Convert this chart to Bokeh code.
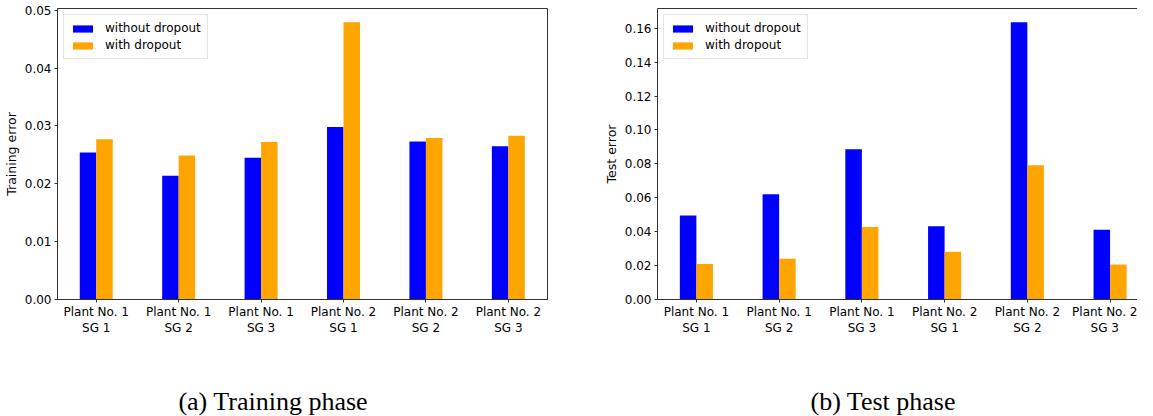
from bokeh.plotting import figure
from bokeh.layouts import row, column
from bokeh.models import Range1d, FixedTicker, NumeralTickFormatter, LinearAxis, Div, Spacer
from bokeh.embed import file_html
from bokeh.resources import INLINE

# ---- data ----
categories = ["Plant No. 1\nSG 1", "Plant No. 1\nSG 2", "Plant No. 1\nSG 3",
              "Plant No. 2\nSG 1", "Plant No. 2\nSG 2", "Plant No. 2\nSG 3"]
train_without = [0.0254, 0.0214, 0.0245, 0.0298, 0.0273, 0.0265]
train_with = [0.0277, 0.0249, 0.0272, 0.0479, 0.0279, 0.0283]
test_without = [0.0495, 0.0621, 0.0887, 0.0432, 0.1635, 0.0411]
test_with = [0.0210, 0.0240, 0.0427, 0.0281, 0.0792, 0.0206]
train_ticks = [0.0, 0.01, 0.02, 0.03, 0.04, 0.05]
test_ticks = [0.0, 0.02, 0.04, 0.06, 0.08, 0.10, 0.12, 0.14, 0.16]
series_labels = ["without dropout", "with dropout"]
captions = ["(a) Training phase", "(b) Test phase"]
ylabels = ["Training error", "Test error"]

FONT = "DejaVu Sans"
H = 372
TOP = 8
BOTTOM = 73
PX_PER_UNIT = 83.6
X0 = -0.47


def panel(width, border_left, border_right, ymax, yticks, ylabel, without, with_, outline):
    frame_w = width - border_left - border_right
    x_end = X0 + frame_w / PX_PER_UNIT
    p = figure(width=width, height=H, x_range=Range1d(X0, x_end), y_range=Range1d(0, ymax),
               output_backend="svg", toolbar_location=None,
               min_border_left=border_left, min_border_right=border_right,
               min_border_top=TOP, min_border_bottom=BOTTOM)
    p.xgrid.visible = False
    p.ygrid.visible = False
    p.background_fill_color = "white"
    p.border_fill_color = "white"
    xax = p.below[0]
    yax = p.left[0]
    if outline:
        p.outline_line_color = "#333333"
        p.outline_line_width = 1
    else:
        p.outline_line_color = None
        top = LinearAxis(ticker=FixedTicker(ticks=[]), major_tick_out=0, major_tick_in=0,
                         minor_tick_out=0, minor_tick_in=0, major_label_standoff=0,
                         major_label_text_font_size="0px", axis_line_color="#333333")
        p.add_layout(top, "above")

    idx = list(range(len(categories)))
    p.vbar(x=[i - 0.1 for i in idx], top=without, width=0.2, bottom=0,
           fill_color="blue", line_color=None, legend_label=series_labels[0])
    p.vbar(x=[i + 0.1 for i in idx], top=with_, width=0.2, bottom=0,
           fill_color="orange", line_color=None, legend_label=series_labels[1])

    for ax in (xax, yax):
        ax.axis_line_color = "#333333"
        ax.major_tick_line_color = "#333333"
        ax.major_tick_out = 3
        ax.major_tick_in = 0
        ax.minor_tick_line_color = None
        ax.major_label_text_font = FONT
        ax.major_label_text_font_size = "12px"
        ax.major_label_text_color = "black"

    xax.ticker = FixedTicker(ticks=idx)
    xax.major_label_overrides = {i: c for i, c in enumerate(categories)}
    xax.major_label_standoff = 2

    yax.ticker = FixedTicker(ticks=yticks)
    yax.formatter = NumeralTickFormatter(format="0.00")
    yax.major_label_standoff = 3
    yax.axis_label = ylabel
    yax.axis_label_text_font = FONT
    yax.axis_label_text_font_size = "12.5px"
    yax.axis_label_text_font_style = "normal"
    yax.axis_label_text_color = "black"
    yax.axis_label_standoff = 3

    lg = p.legend[0]
    lg.location = "top_left"
    lg.margin = 6
    lg.padding = 6
    lg.spacing = 3
    lg.glyph_width = 25
    lg.glyph_height = 9
    lg.label_height = 9
    lg.label_standoff = 10
    lg.label_text_font = FONT
    lg.label_text_font_size = "12px"
    lg.label_text_color = "black"
    lg.border_line_color = "#cccccc"
    lg.background_fill_alpha = 0.8
    return p


def caption_div(text):
    return Div(text=text, width=536, height=40,
               styles={"font-family": "Liberation Serif", "font-size": "26px",
                       "text-align": "center", "color": "black",
                       "padding-top": "10px", "line-height": "30px",
                       "box-sizing": "border-box"})


p1 = panel(600, 50, 53, max(train_with) * 1.05, train_ticks, ylabels[0],
           train_without, train_with, True)
p2 = panel(537, 52, 0, max(test_without) * 1.05, test_ticks, ylabels[1],
           test_without, test_with, False)

layout = column(row(p1, p2),
                row(caption_div(captions[0]), Spacer(width=64, height=40), caption_div(captions[1])))
open("out.html", "w").write(file_html(layout, INLINE))
